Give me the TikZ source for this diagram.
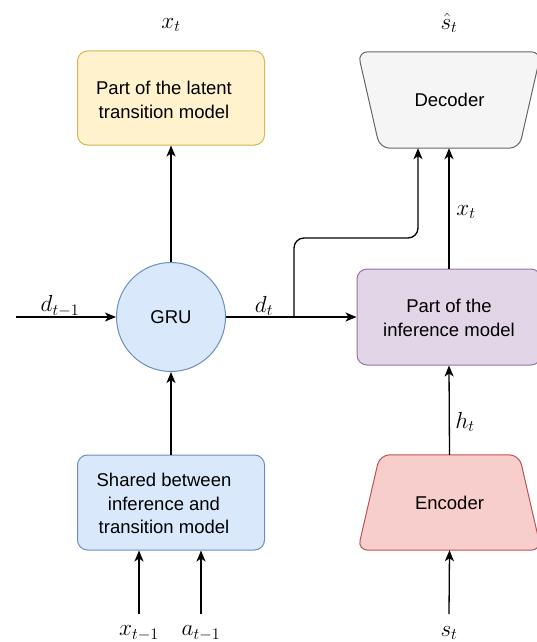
\documentclass[tikz,border=0pt]{standalone}
\usepackage{fontspec}
\newfontfamily\boxfont{Liberation Sans}
\usetikzlibrary{arrows.meta,calc}

\definecolor{yelfill}{HTML}{FFF2CC}
\definecolor{yeldraw}{HTML}{D6B656}
\definecolor{grayfill}{HTML}{F5F5F5}
\definecolor{graydraw}{HTML}{666666}
\definecolor{bluefill}{HTML}{DAE8FC}
\definecolor{bluedraw}{HTML}{6C8EBF}
\definecolor{purfill}{HTML}{E1D5E7}
\definecolor{purdraw}{HTML}{9673A6}
\definecolor{redfill}{HTML}{F8CECC}
\definecolor{reddraw}{HTML}{B85450}

\newcommand{\mlab}[1]{\scalebox{1.12}{$#1$}}

\begin{document}
\begin{tikzpicture}[x=1pt,y=-1pt,
  txt/.style={font=\boxfont\fontsize{18.5}{23.5}\selectfont, align=center, inner sep=0pt},
  box/.style={draw, rounded corners=10pt, line width=1pt, minimum width=187pt, minimum height=94pt, inner sep=0pt},
  conn/.style={line width=1.3pt, -{Stealth[length=11pt,width=9pt,inset=3pt]}},
  lab/.style={font=\fontsize{20.74}{25}\selectfont, inner sep=0pt}]
\useasboundingbox (0,0) rectangle (537,642);

% boxes and GRU cell
\node[box, fill=yelfill, draw=yeldraw] (trans) at (171,98) {};
\node[txt] (trans-t) at ($(trans.center)+(-7,2)$) {Part of the latent\\transition model};
\node[box, fill=bluefill, draw=bluedraw, minimum height=95pt] (shared) at (171,502.5) {};
\node[txt] (shared-t) at ($(shared.center)+(-7,1)$) {Shared between\\inference and\\transition model};
\node[box, fill=purfill, draw=purdraw, minimum width=184pt, minimum height=96pt] (inf) at (449,317) {};
\node[txt] (inf-t) at ($(inf.center)+(0,1)$) {Part of the\\inference model};
\node[txt, draw=bluedraw, fill=bluefill, line width=1pt, circle, minimum size=109pt] (gru) at (171,317) {GRU};

% decoder and encoder (trapezoids)
\node[minimum width=183pt, minimum height=96pt, inner sep=0pt] (dec) at (449.5,100) {};
\draw[fill=grayfill, draw=graydraw, line width=1pt, rounded corners=10pt]
  (dec.north west) -- (dec.north east) -- ($(dec.south east)+(-22,0)$)
  -- ($(dec.south west)+(22,0)$) -- cycle;
\node[txt] (dec-t) at (dec.center) {Decoder};

\node[minimum width=183pt, minimum height=95pt, inner sep=0pt] (enc) at (449.5,502.5) {};
\draw[fill=redfill, draw=reddraw, line width=1pt, rounded corners=10pt]
  ($(enc.north west)+(22,0)$) -- ($(enc.north east)+(-22,0)$) -- (enc.south east)
  -- (enc.south west) -- cycle;
\node[txt] (enc-t) at (enc.center) {Encoder};

% math labels
\node[lab] (lxt) at (171,25) {\mlab{x_t}};
\node[lab] (lsh) at (449,23) {\mlab{\hat{s}_t}};
\node[lab] (lxt2) at (466,212) {\mlab{x_t}};
\node[lab] (ldp) at (60,306) {\mlab{d_{t-1}}};
\node[lab] (ldt) at (264,306) {\mlab{d_t}};
\node[lab] (lht) at (465,422) {\mlab{h_t}};
\node[lab] (lxp) at (139,633) {\mlab{x_{t-1}}};
\node[lab] (lap) at (201,633) {\mlab{a_{t-1}}};
\node[lab] (lst) at (449,633) {\mlab{s_t}};

% free ends of the input arrows
\coordinate (din) at (16,317);
\coordinate (xin) at (139,614);
\coordinate (ain) at (201,614);
\coordinate (sin) at (449,614);
\coordinate (split) at (294,317);
\coordinate (bend) at (418,238);

% connectors
\draw[conn] (din) -- (gru.west);
\draw[conn] (gru.north) -- (trans.south);
\draw[conn] (shared.north) -- (gru.south);
\draw[conn] (gru.east) -- (inf.west);
\draw[conn, rounded corners=10pt] (split) |- (bend) -- (bend |- dec.south);
\draw[conn] (inf.north) -- (inf.north |- dec.south);
\draw[conn] (enc.north) -- (inf.south);
\draw[conn] (xin) -- (xin |- shared.south);
\draw[conn] (ain) -- (ain |- shared.south);
\draw[conn] (sin) -- (enc.south);
\end{tikzpicture}
\end{document}
